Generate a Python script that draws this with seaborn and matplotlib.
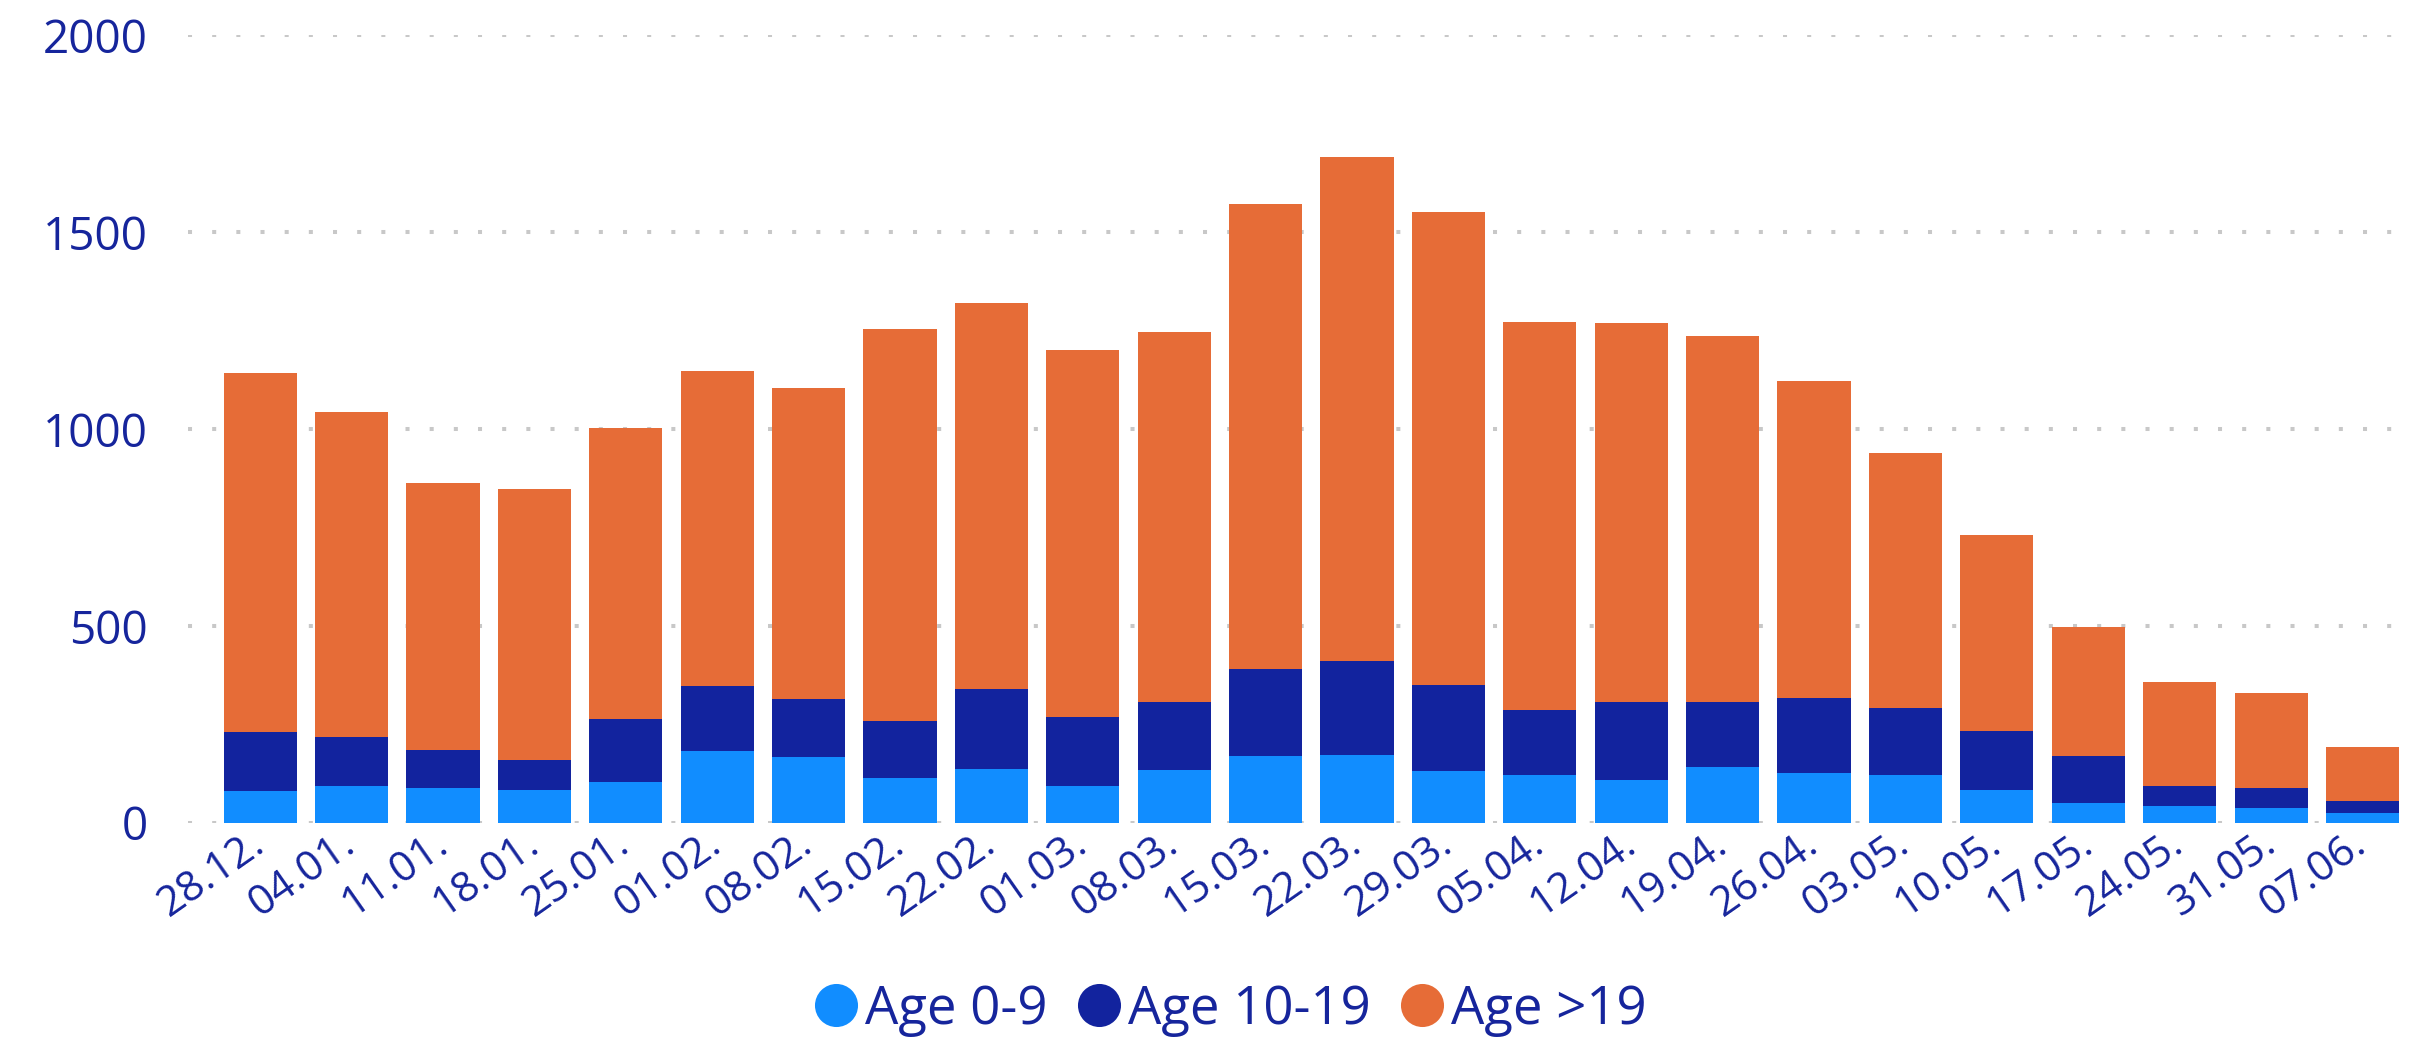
import matplotlib
matplotlib.use("Agg")
import matplotlib.pyplot as plt
from matplotlib.lines import Line2D
import numpy as np
import pandas as pd
import seaborn as sns

# ---- data ----
weeks = ["28.12.", "04.01.", "11.01.", "18.01.", "25.01.", "01.02.", "08.02.", "15.02.",
         "22.02.", "01.03.", "08.03.", "15.03.", "22.03.", "29.03.", "05.04.", "12.04.",
         "19.04.", "26.04.", "03.05.", "10.05.", "17.05.", "24.05.", "31.05.", "07.06."]
age_0_9 = [80, 95, 89, 85, 103, 184, 167, 113, 138, 95, 134, 171, 173, 131, 123, 110,
           143, 128, 121, 85, 52, 44, 39, 26]
age_10_19 = [150, 124, 97, 76, 160, 163, 147, 147, 201, 175, 174, 221, 237, 220, 165, 196,
             163, 189, 172, 148, 117, 51, 50, 30]
age_gt19 = [911, 823, 678, 686, 739, 800, 791, 995, 982, 930, 938, 1179, 1280, 1199, 983, 962,
            929, 806, 647, 499, 329, 264, 240, 138]
series_names = ["Age 0-9", "Age 10-19", "Age >19"]
series_colors = ["#118DFF", "#12239E", "#E66C37"]

TEXT = "#16259C"

sns.set_theme(style="white")
plt.rcParams["font.family"] = ["Open Sans", "DejaVu Sans"]

df = pd.DataFrame({"week": weeks, "a": age_0_9, "b": age_10_19, "c": age_gt19})
df["cum_a"] = df["a"]
df["cum_b"] = df["a"] + df["b"]
df["cum_c"] = df["a"] + df["b"] + df["c"]

fig = plt.figure(figsize=(24.17, 10.43), dpi=100)
ax = fig.add_axes([188 / 2417, 1 - 823 / 1043, (2410 - 188) / 2417, (823 - 35) / 1043])

for col, color in zip(["cum_c", "cum_b", "cum_a"], series_colors[::-1]):
    sns.barplot(data=df, x="week", y=col, color=color, saturation=1, errorbar=None,
                width=0.8, linewidth=0, ax=ax, zorder=3)

ax.set_ylim(0, 2000)
ax.set_xlim(-0.79, 23.52)
ax.set_yticks([0, 500, 1000, 1500, 2000])
ax.set_xlabel("")
ax.set_ylabel("")
for s in ax.spines.values():
    s.set_visible(False)

ax.yaxis.grid(True, color="#C8C8C8", linewidth=2.9, linestyle=(0, (1, 5)), zorder=0)
ax.xaxis.grid(False)
ax.set_axisbelow(True)

ax.tick_params(axis="y", length=0, pad=29, labelsize=33, labelcolor=TEXT)
ax.tick_params(axis="x", length=0, pad=12, labelsize=30.5, labelcolor=TEXT)
for lab in ax.get_xticklabels():
    lab.set_rotation(35)
    lab.set_ha("right")
    lab.set_va("center")
    lab.set_rotation_mode("anchor")

handles = [Line2D([0], [0], marker="o", linestyle="none", markersize=31,
                  markerfacecolor=c, markeredgewidth=0) for c in series_colors]
leg = fig.legend(handles, series_names, loc="center", bbox_to_anchor=(1230 / 2417, 1 - 1010 / 1043),
                 ncol=3, frameon=False, fontsize=38, handletextpad=0.12, handlelength=0.85,
                 columnspacing=0.55, borderaxespad=0, borderpad=0)
for t in leg.get_texts():
    t.set_color(TEXT)

fig.savefig("out.png", dpi=100)
